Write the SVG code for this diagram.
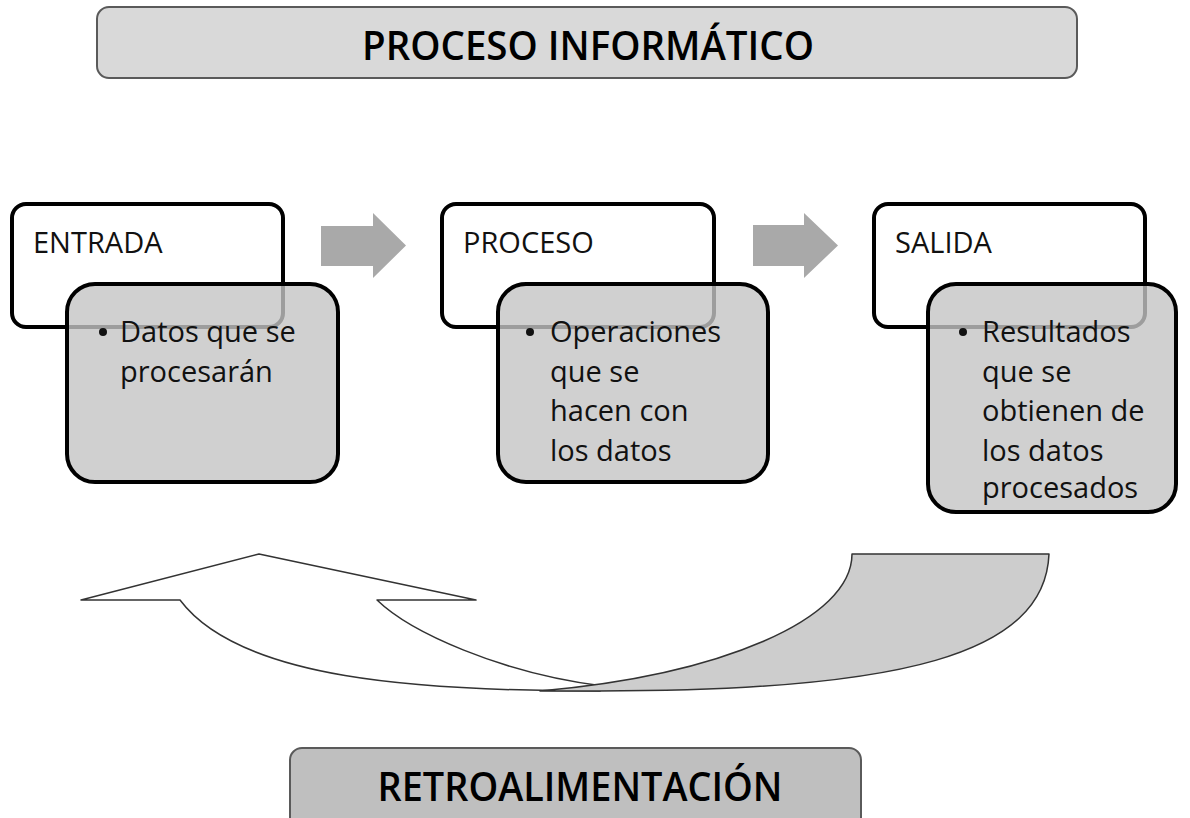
<svg xmlns="http://www.w3.org/2000/svg" width="1190" height="818" viewBox="0 0 1190 818">
<style>
.hdr{fill:#d9d9d9;stroke:#5a5a5a;stroke-width:2}
.ftr{fill:#bfbfbf;stroke:#5a5a5a;stroke-width:2}
.big{font-family:"Open Sans","Liberation Sans",sans-serif;font-size:39px;font-weight:600;fill:#000;text-anchor:middle}
.lab{font-family:"Open Sans","Liberation Sans",sans-serif;font-size:29px;fill:#111}
.wbox{fill:#fff;stroke:#000;stroke-width:4}
.gbox{fill:#c4c4c4;fill-opacity:0.8;stroke:#000;stroke-width:4}
.arr{fill:#a9a9a9}
.curve{stroke:#333;stroke-width:1.5;stroke-linejoin:round}
</style>
<g id="title">
<rect class="hdr" x="97" y="7" width="980" height="71" rx="12"/>
<text class="big" x="588" y="60" textLength="452" lengthAdjust="spacingAndGlyphs">PROCESO INFORMÁTICO</text>
</g>
<g id="entrada">
<rect class="wbox" x="12" y="204" width="271" height="123" rx="14"/>
<text class="lab" x="33" y="253">ENTRADA</text>
<rect class="gbox" x="67" y="284" width="271" height="198" rx="28"/>
<circle cx="103" cy="332" r="4" fill="#111"/>
<text class="lab" x="120" y="342">Datos que se</text>
<text class="lab" x="120" y="381.5">procesarán</text>
</g>
<g id="proceso">
<rect class="wbox" x="442" y="204" width="272" height="123" rx="14"/>
<text class="lab" x="463" y="253">PROCESO</text>
<rect class="gbox" x="498" y="284" width="270" height="198" rx="28"/>
<circle cx="530" cy="332" r="4" fill="#111"/>
<text class="lab" x="550" y="342">Operaciones</text>
<text class="lab" x="550" y="381.5">que se</text>
<text class="lab" x="550" y="421">hacen con</text>
<text class="lab" x="550" y="460.5">los datos</text>
</g>
<g id="salida">
<rect class="wbox" x="874" y="204" width="271" height="123" rx="14"/>
<text class="lab" x="895" y="253">SALIDA</text>
<rect class="gbox" x="928" y="284" width="248" height="228" rx="28"/>
<circle cx="963" cy="332" r="4" fill="#111"/>
<text class="lab" x="982" y="342">Resultados</text>
<text class="lab" x="982" y="381.5">que se</text>
<text class="lab" x="982" y="421">obtienen de</text>
<text class="lab" x="982" y="460.5">los datos</text>
<text class="lab" x="982" y="498">procesados</text>
</g>
<g id="connectors">
<path class="arr" d="M321,226 L373,226 L373,213 L406,245.5 L373,278 L373,266 L321,266 Z"/>
<path class="arr" d="M753,225 L804,225 L804,213 L838,245.5 L804,278 L804,266 L753,266 Z"/>
<path class="curve" fill="#fff" d="M180,600 L81,600 L259,554 L476,600 L377,600 C410,632 500,673 603,686 L600,691 C420,691 240,680 180,600 Z"/>
<path class="curve" fill="#cdcdcd" d="M852,554 L1049,554 C1045,655 900,691 600,691 L540,691 C720,675 852,620 852,554 Z"/>
</g>
<g id="feedback">
<rect class="ftr" x="290" y="748" width="571" height="90" rx="12"/>
<text class="big" x="580" y="801" textLength="405" lengthAdjust="spacingAndGlyphs">RETROALIMENTACIÓN</text>
</g>
</svg>
